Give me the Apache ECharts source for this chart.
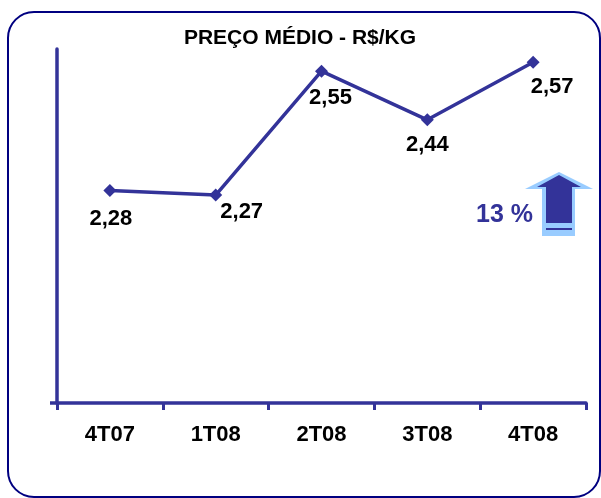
<!DOCTYPE html>
<html>
<head>
<meta charset="utf-8">
<script src="https://cdn.jsdelivr.net/npm/echarts@6/dist/echarts.min.js"></script>
<style>
html,body{margin:0;padding:0;background:#fff;}
#chart{width:601px;height:498px;}
</style>
</head>
<body>
<div id="chart"></div>
<script>
const categories = ['4T07', '1T08', '2T08', '3T08', '4T08'];
const precoMedio = [2.28, 2.27, 2.55, 2.44, 2.57];
const variacao = '13 %';
const titulo = 'PREÇO MÉDIO - R$/KG';

const labelOffsets = [[1, 28], [26, 17], [9, 27], [0, 25], [19, 25]];
const NAVY = '#333399';
const FONT = '"Liberation Sans", Arial, sans-serif';

const chart = echarts.init(document.getElementById('chart'), null, {renderer: 'canvas'});
chart.setOption({
  backgroundColor: '#fff',
  animation: false,
  title: {
    text: titulo,
    left: 295, top: 23, textAlign: 'center',
    textStyle: {fontFamily: FONT, fontWeight: 'bold', fontSize: 21, color: '#000'}
  },
  grid: {left: 57, right: 15, top: 49, bottom: 95},
  xAxis: {
    type: 'category',
    data: categories,
    boundaryGap: true,
    axisLine: {lineStyle: {color: NAVY, width: 3.5}},
    axisTick: {show: true, length: 7, lineStyle: {color: NAVY, width: 3}},
    axisLabel: {margin: 21, fontFamily: FONT, fontWeight: 'bold', fontSize: 22, color: '#000'}
  },
  yAxis: {
    type: 'value', min: 1.8, max: 2.6,
    axisLine: {show: true, lineStyle: {color: NAVY, width: 3.5}},
    axisTick: {show: false}, axisLabel: {show: false}, splitLine: {show: false}
  },
  series: [{
    type: 'line',
    data: precoMedio.map((v, i) => ({value: v, label: {offset: labelOffsets[i]}})),
    symbol: 'diamond', symbolSize: 13,
    lineStyle: {color: NAVY, width: 3.5},
    itemStyle: {color: NAVY},
    label: {
      show: true, position: 'inside', align: 'center', verticalAlign: 'middle',
      fontFamily: FONT, fontWeight: 'bold', fontSize: 22, color: '#000',
      formatter: p => p.value.toFixed(2).replace('.', ',')
    }
  }],
  graphic: [
    {type: 'rect', shape: {x: 8, y: 12, width: 592, height: 485, r: 26},
     style: {fill: 'none', stroke: '#000080', lineWidth: 2}, z: 100, silent: true},
    {type: 'line', shape: {x1: 50, y1: 403, x2: 58, y2: 403},
     style: {stroke: NAVY, lineWidth: 3.5}, z: 10},
    {type: 'polygon', shape: {points: [[559,172],[525,189],[542,189],[542,236],[575,236],[575,189],[593,189]]},
     style: {fill: '#99ccff'}, z: 10},
    {type: 'polygon', shape: {points: [[559,175],[537,187],[546,187],[546,223],[572,223],[572,187],[581,187]]},
     style: {fill: NAVY}, z: 11},
    {type: 'rect', shape: {x: 546, y: 228, width: 26, height: 2},
     style: {fill: NAVY}, z: 11},
    {type: 'text', style: {text: variacao, x: 533, y: 215, align: 'right', verticalAlign: 'middle',
      font: 'bold 25px ' + FONT, fill: NAVY}, z: 11}
  ]
});
</script>
</body>
</html>
